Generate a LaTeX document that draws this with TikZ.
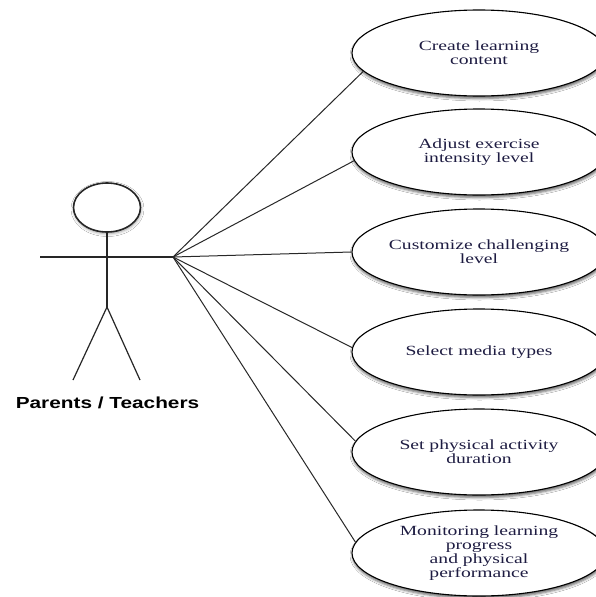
\documentclass[tikz,border=0pt]{standalone}
\usepackage{fontspec}
\setmainfont{Liberation Serif}
\newfontfamily\actorfont{Liberation Sans}
\usetikzlibrary{shapes.geometric,shadows.blur}

\definecolor{ucink}{RGB}{30,28,66}
\definecolor{wire}{RGB}{40,40,40}

% use-case caption: Times-like, widened, tight leading
\newcommand\uctext[1]{\makebox[0pt]{\scalebox{1.4}[1]{\parbox{150pt}{\centering
  \fontsize{14}{14}\selectfont\lineskiplimit=-30pt\color{ucink}#1}}}}

\tikzset{
  usecase/.style={ellipse, draw=black, line width=1.1pt, fill=white,
    minimum width=254pt, minimum height=86pt, inner sep=0pt,
    blur shadow={shadow xshift=0.5pt, shadow yshift=-2.5pt,
      shadow blur radius=2.5pt, shadow opacity=60}},
  link/.style={draw=wire, line width=1pt},
  limb/.style={draw=black!85, line width=1.2pt},
  headshape/.style={ellipse, draw=black!85, line width=1.6pt, fill=white,
    minimum width=67pt, minimum height=49pt, inner sep=0pt,
    blur shadow={shadow xshift=0.5pt, shadow yshift=-1.5pt,
      shadow blur radius=3pt, shadow opacity=40}},
}

\begin{document}
\begin{tikzpicture}[x=1pt, y=-1pt]
  \useasboundingbox (0,0) rectangle (596,597);
  \fill[white] (0,0) rectangle (596,597);

  % actor
  \coordinate (neck)  at (107,232);
  \coordinate (hip)   at (107,307);
  \coordinate (lhand) at (40,257);
  \coordinate (hub)   at (173,257);
  \coordinate (lfoot) at (73,380);
  \coordinate (rfoot) at (140,380);
  \draw[limb] (neck) -- (hip);
  \draw[limb] (lhand) -- (hub);
  \draw[limb] (lfoot) -- (hip) -- (rfoot);
  \node[headshape] (head) at (107,207.5) {};
  \node[anchor=base, inner sep=0pt] (role) at (107.5,408)
    {\scalebox{1.3}[1]{\actorfont\bfseries\fontsize{16}{19}\selectfont Parents / Teachers}};

  % use cases
  \node[usecase] (uc1) at (479,53)  {\uctext{Create learning\\content}};
  \node[usecase] (uc2) at (479,152) {\uctext{Adjust exercise\\intensity level}};
  \node[usecase] (uc3) at (479,252) {\uctext{Customize challenging\\level}};
  \node[usecase] (uc4) at (479,352) {\uctext{Select media types}};
  \node[usecase] (uc5) at (479,452) {\uctext{Set physical activity\\duration}};
  \node[usecase] (uc6) at (479,553) {\uctext{Monitoring learning\\progress\\and physical\\performance}};

  % associations
  \draw[link] (hub) -- (uc1.189);
  \draw[link] (hub) -- (uc2.184);
  \draw[link] (hub) -- (uc3.180);
  \draw[link] (hub) -- (uc4.178);
  \draw[link] (hub) -- (uc5.175);
  \draw[link] (hub) -- (uc6.175);
\end{tikzpicture}
\end{document}
